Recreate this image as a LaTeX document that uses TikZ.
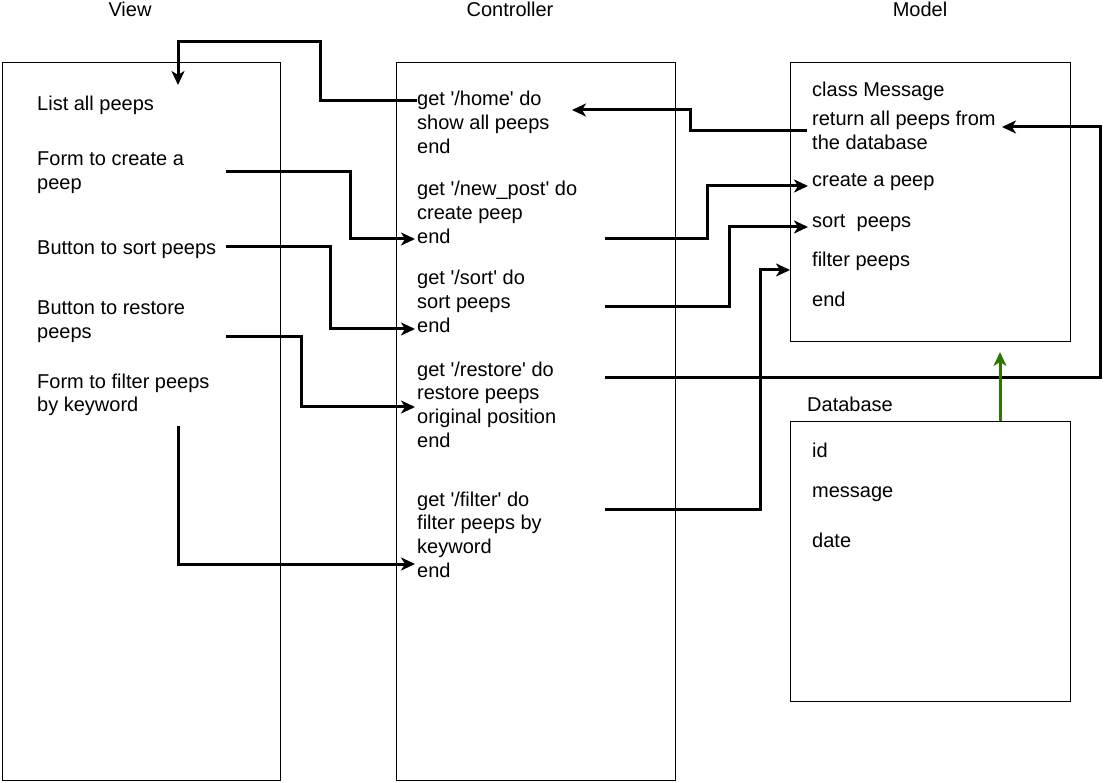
\documentclass[tikz,border=0pt]{standalone}
\usepackage{fontspec}
\setmainfont{Liberation Sans}[Ligatures=TeXOff]
\usetikzlibrary{arrows.meta}
\definecolor{dgreen}{HTML}{2D7600}
\begin{document}
\begin{tikzpicture}[x=1pt,y=-1pt,
  box/.style={draw, line width=1pt, anchor=north west, inner sep=0pt},
  txt/.style={anchor=base west, inner sep=0pt, align=left, font=\fontsize{20pt}{23.7pt}\selectfont},
  ttl/.style={anchor=base, inner sep=0pt, font=\fontsize{20pt}{24pt}\selectfont},
  conn/.style={line width=3pt, -{Stealth[length=14pt,width=13pt,inset=4pt]}},
  gconn/.style={conn, draw=dgreen},
]
\useasboundingbox (0,0) rectangle (1111,783);

% boxes
\node[box, minimum width=278pt, minimum height=718pt] (view) at (2,62) {};
\node[box, minimum width=279pt, minimum height=718pt] (ctrl) at (396,62) {};
\node[box, minimum width=280pt, minimum height=279pt] (model) at (790,62) {};
\node[box, minimum width=280pt, minimum height=280pt] (db) at (790,421) {};

% titles
\node[ttl] (tview) at (130,17) {View};
\node[ttl] (tctrl) at (510,17) {Controller};
\node[ttl] (tmodel) at (920,17) {Model};
\node[ttl] (tdb) at (850,412) {Database};

% view texts (anchor = baseline of last line)
\node[txt] (v0) at (37,111) {List all peeps};
\node[txt] (v1) at (37,189.7) {Form to create a\\peep};
\node[txt] (v2) at (37,255) {Button to sort peeps};
\node[txt] (v3) at (37,338.7) {Button to restore\\peeps};
\node[txt] (v4) at (37,411.7) {Form to filter peeps\\by keyword};

% controller texts
\node[txt] (c0) at (417,153.4) {get '/home' do\\show all peeps\\end};
\node[txt] (c1) at (417,243.4) {get '/new\_post' do\\create peep\\end};
\node[txt] (c2) at (417,332.4) {get '/sort' do\\sort peeps\\end};
\node[txt] (c3) at (417,447.1) {get '/restore' do\\restore peeps\\original position\\end};
\node[txt] (c4) at (417,577.1) {get '/filter' do\\filter peeps by\\keyword\\end};

% model texts
\node[txt] (m0) at (812,97) {class Message};
\node[txt] (m1) at (812,149.7) {return all peeps from\\the database};
\node[txt] (m2) at (812,187) {create a peep};
\node[txt] (m3) at (812,228) {sort\ \ peeps};
\node[txt] (m4) at (812,267) {filter peeps};
\node[txt] (m5) at (812,307) {end};

% database texts
\node[txt] (d0) at (812,457) {id};
\node[txt] (d1) at (812,497) {message};
\node[txt] (d2) at (812,547) {date};

% connector end points
\coordinate (homeS) at (417,101);
\coordinate (listE) at (178,85);
\coordinate (formS) at (226,172);
\coordinate (newE) at (415,239);
\coordinate (sortS) at (226,247);
\coordinate (sortE) at (415,329);
\coordinate (restS) at (226,337);
\coordinate (restE) at (415,407);
\coordinate (filtS) at (178,426);
\coordinate (filtE) at (415,564);
\coordinate (retS) at (807,131);
\coordinate (homeE) at (572,110);
\coordinate (newS) at (605,239);
\coordinate (createE) at (808,186);
\coordinate (sortS2) at (605,307);
\coordinate (sortE2) at (808,227);
\coordinate (restS2) at (605,378);
\coordinate (retE) at (1002,127);
\coordinate (filtS2) at (605,509);
\coordinate (filtE2) at (790,270);
\coordinate (dbS) at (1000,421);
\coordinate (modelE) at (1000,352);

% connectors
\draw[conn] (homeS) -- (320,101) -- (320,42) -- (178,42) -- (listE);
\draw[conn] (formS) -- (350,172) -- (350,239) -- (newE);
\draw[conn] (sortS) -- (330,247) -- (330,329) -- (sortE);
\draw[conn] (restS) -- (301,337) -- (301,407) -- (restE);
\draw[conn] (filtS) -- (178,564) -- (filtE);
\draw[conn] (retS) -- (690,131) -- (690,110) -- (homeE);
\draw[conn] (newS) -- (707,239) -- (707,186) -- (createE);
\draw[conn] (sortS2) -- (729,307) -- (729,227) -- (sortE2);
\draw[conn] (restS2) -- (1100,378) -- (1100,127) -- (retE);
\draw[conn] (filtS2) -- (760,509) -- (760,270) -- (filtE2);
\draw[gconn] (dbS) -- (modelE);
\end{tikzpicture}
\end{document}
